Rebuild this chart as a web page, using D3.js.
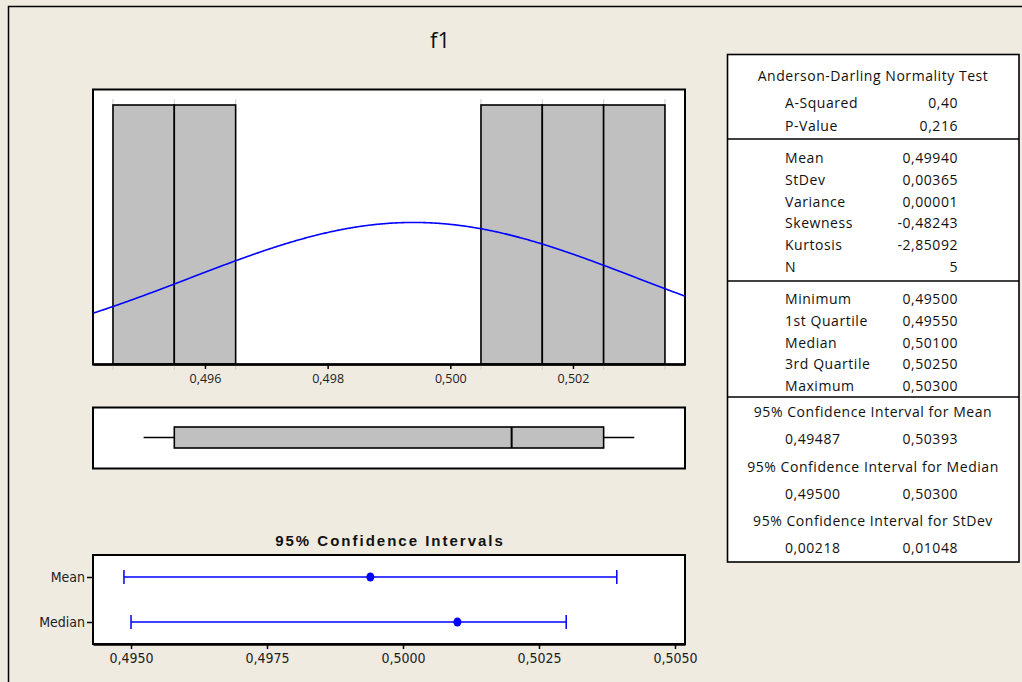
<!DOCTYPE html>
<html>
<head>
<meta charset="utf-8">
<script src="https://cdn.jsdelivr.net/npm/d3@7"></script>
<style>
  html, body { margin: 0; padding: 0; background: #efebe1; }
  svg { display: block; }
  .tbl { font-family: "Open Sans", "DejaVu Sans", sans-serif; font-size: 14px; letter-spacing: 0.55px; fill: #111; }
  .tick-lbl { font-family: "Liberation Sans Narrow", "DejaVu Sans Condensed", "Open Sans", sans-serif; font-size: 14px; fill: #222; }
  .hist-lbl { font-family: "Open Sans", "DejaVu Sans", sans-serif; font-size: 12.5px; fill: #222; }
</style>
</head>
<body>
<svg id="chart" width="1022" height="682"></svg>
<script>
// Sample and summary values
const title = "f1";
const sample = [0.495, 0.496, 0.501, 0.502, 0.503];
const binEdges = [0.4945, 0.4955, 0.4965, 0.4975, 0.4985, 0.4995, 0.5005, 0.5015, 0.5025, 0.5035];
const binCounts = [1, 1, 0, 0, 0, 0, 1, 1, 1];
const histTicks = [0.496, 0.498, 0.500, 0.502];
const histTickLabels = ["0,496", "0,498", "0,500", "0,502"];
const boxStats = { min: 0.495, q1: 0.4955, median: 0.501, q3: 0.5025, max: 0.503 };
const mean = 0.4994, stdev = 0.00365;
const ciRows = ["Mean", "Median"];
const ciCenters = [0.4994, 0.501];
const ciLows = [0.49487, 0.495];
const ciHighs = [0.50393, 0.503];
const ciTicks = [0.495, 0.4975, 0.5, 0.5025, 0.505];
const ciTickLabels = ["0,4950", "0,4975", "0,5000", "0,5025", "0,5050"];

const adLabels = ["A-Squared", "P-Value"];
const adValues = ["0,40", "0,216"];
const momentLabels = ["Mean", "StDev", "Variance", "Skewness", "Kurtosis", "N"];
const momentValues = ["0,49940", "0,00365", "0,00001", "-0,48243", "-2,85092", "5"];
const quantLabels = ["Minimum", "1st Quartile", "Median", "3rd Quartile", "Maximum"];
const quantValues = ["0,49500", "0,49550", "0,50100", "0,50250", "0,50300"];
const ciTitles = ["95% Confidence Interval for Mean", "95% Confidence Interval for Median", "95% Confidence Interval for StDev"];
const ciLowText = ["0,49487", "0,49500", "0,00218"];
const ciHighText = ["0,50393", "0,50300", "0,01048"];

const svg = d3.select("#chart");
const BLUE = "#0000ff";

// Outer frame
svg.append("rect").attr("x", 0).attr("y", 0).attr("width", 1022).attr("height", 682).attr("fill", "#efebe1");
svg.append("path").attr("d", "M8.5,682 V6.5 H1022").attr("fill", "none").attr("stroke", "#000").attr("stroke-width", 1.5);

svg.append("text").attr("x", 440).attr("y", 48).attr("text-anchor", "middle")
  .attr("font-family", "Open Sans, DejaVu Sans, sans-serif").attr("font-size", 22).attr("fill", "#111").text(title);

// ---------- Histogram ----------
const hx = d3.scaleLinear().domain([0.5 - 357.3 / 61333, 0.5 + 234.7 / 61333]).range([93, 685]);
const hy = d3.scaleLinear().domain([0, 1]).range([364, 105]);

svg.append("rect").attr("x", 93).attr("y", 89.5).attr("width", 592).attr("height", 275)
  .attr("fill", "#fff").attr("stroke", "#000").attr("stroke-width", 2);

const bins = binCounts.map((c, i) => ({ x0: binEdges[i], x1: binEdges[i + 1], c }));
// faint bin-edge marks
const usedEdges = [];
bins.forEach(b => { if (b.c > 0) { usedEdges.push(b.x0, b.x1); } });
Array.from(new Set(usedEdges)).forEach(e => {
  svg.append("line").attr("x1", hx(e)).attr("x2", hx(e)).attr("y1", hy(1) - 6).attr("y2", hy(1))
    .attr("stroke", "#cfcfcf").attr("stroke-width", 1);
  svg.append("line").attr("x1", hx(e)).attr("x2", hx(e)).attr("y1", hy(0)).attr("y2", hy(0) + 6)
    .attr("stroke", "#cfcfcf").attr("stroke-width", 1);
});

svg.append("g").selectAll("rect").data(bins.filter(b => b.c > 0)).join("rect")
  .attr("x", d => hx(d.x0)).attr("width", d => hx(d.x1) - hx(d.x0))
  .attr("y", d => hy(d.c)).attr("height", d => hy(0) - hy(d.c))
  .attr("fill", "#c0c0c0").attr("stroke", "#000").attr("stroke-width", 1.6);

// fitted normal curve, scaled to counts
const binW = binEdges[1] - binEdges[0];
const n = sample.length;
const curvePts = d3.range(0, 601).map(i => {
  const x = hx.domain()[0] + (hx.domain()[1] - hx.domain()[0]) * i / 600;
  const z = (x - mean) / stdev;
  return [x, n * binW * Math.exp(-0.5 * z * z) / (stdev * Math.sqrt(2 * Math.PI))];
});
svg.append("path").datum(curvePts)
  .attr("d", d3.line().x(d => hx(d[0])).y(d => hy(d[1])))
  .attr("fill", "none").attr("stroke", BLUE).attr("stroke-width", 1.6);

const hAxis = svg.append("g").attr("transform", "translate(0,364)")
  .call(d3.axisBottom(hx).tickValues(histTicks).tickFormat((d, i) => histTickLabels[i]).tickSize(5).tickPadding(5).tickSizeOuter(0));
hAxis.select(".domain").attr("stroke", "#000").attr("stroke-width", 2.5);
hAxis.selectAll(".tick line").attr("stroke", "#000").attr("stroke-width", 1.5);
hAxis.selectAll("text").attr("class", "hist-lbl").attr("font-size", null).attr("font-family", null).attr("fill", null);

// ---------- Boxplot ----------
svg.append("rect").attr("x", 93).attr("y", 407.5).attr("width", 592).attr("height", 61)
  .attr("fill", "#fff").attr("stroke", "#000").attr("stroke-width", 2);
const bY0 = 427, bY1 = 448, bYm = 437.5;
svg.append("line").attr("x1", hx(boxStats.min)).attr("x2", hx(boxStats.q1)).attr("y1", bYm).attr("y2", bYm)
  .attr("stroke", "#000").attr("stroke-width", 1.5);
svg.append("line").attr("x1", hx(boxStats.q3)).attr("x2", hx(boxStats.max)).attr("y1", bYm).attr("y2", bYm)
  .attr("stroke", "#000").attr("stroke-width", 1.5);
svg.append("rect").attr("x", hx(boxStats.q1)).attr("y", bY0).attr("width", hx(boxStats.q3) - hx(boxStats.q1))
  .attr("height", bY1 - bY0).attr("fill", "#c0c0c0").attr("stroke", "#000").attr("stroke-width", 1.6);
svg.append("line").attr("x1", hx(boxStats.median)).attr("x2", hx(boxStats.median)).attr("y1", bY0).attr("y2", bY1)
  .attr("stroke", "#000").attr("stroke-width", 2);

// ---------- Confidence intervals ----------
const cx = d3.scaleLinear().domain([0.495 - 38 / 54375, 0.505 + 10 / 54375]).range([93, 685]);
const cy = d3.scalePoint().domain(ciRows).range([577, 622]);

svg.append("text").attr("x", 390).attr("y", 546).attr("text-anchor", "middle")
  .attr("font-family", "Liberation Sans, Arial, sans-serif").attr("font-weight", "bold")
  .attr("font-size", 15).attr("letter-spacing", 2).attr("fill", "#111").text("95% Confidence Intervals");

svg.append("rect").attr("x", 93).attr("y", 555).attr("width", 592).attr("height", 89)
  .attr("fill", "#fff").attr("stroke", "#000").attr("stroke-width", 2);

const ciData = ciRows.map((r, i) => ({ r, c: ciCenters[i], lo: ciLows[i], hi: ciHighs[i] }));
const g = svg.append("g");
ciData.forEach(d => {
  const y = cy(d.r);
  g.append("line").attr("x1", cx(d.lo)).attr("x2", cx(d.hi)).attr("y1", y).attr("y2", y)
    .attr("stroke", BLUE).attr("stroke-width", 1.5);
  [d.lo, d.hi].forEach(v => g.append("line").attr("x1", cx(v)).attr("x2", cx(v)).attr("y1", y - 7).attr("y2", y + 7)
    .attr("stroke", BLUE).attr("stroke-width", 1.5));
  g.append("ellipse").attr("cx", cx(d.c)).attr("cy", y).attr("rx", 4).attr("ry", 4.5).attr("fill", BLUE);
});

const cAxis = svg.append("g").attr("transform", "translate(0,644)")
  .call(d3.axisBottom(cx).tickValues(ciTicks).tickFormat((d, i) => ciTickLabels[i]).tickSize(5).tickPadding(4).tickSizeOuter(0));
cAxis.select(".domain").attr("stroke", "#000").attr("stroke-width", 2.5);
cAxis.selectAll(".tick line").attr("stroke", "#000").attr("stroke-width", 1.5);
cAxis.selectAll("text").attr("class", "tick-lbl").attr("font-size", null).attr("font-family", null).attr("fill", null);

const lAxis = svg.append("g").attr("transform", "translate(93,0)")
  .call(d3.axisLeft(cy).tickSize(6).tickPadding(2).tickSizeOuter(0));
lAxis.select(".domain").remove();
lAxis.selectAll(".tick line").attr("stroke", "#000").attr("stroke-width", 1.5);
lAxis.selectAll("text").attr("class", "tick-lbl").attr("font-size", null).attr("font-family", null).attr("fill", null);

// ---------- Statistics table ----------
const T = svg.append("g").attr("class", "tbl");
T.append("rect").attr("x", 727.5).attr("y", 54.5).attr("width", 291.5).attr("height", 507.5)
  .attr("fill", "#fff").attr("stroke", "#000").attr("stroke-width", 1.6);
[139, 281, 397].forEach(y => T.append("line").attr("x1", 727.5).attr("x2", 1019).attr("y1", y).attr("y2", y)
  .attr("stroke", "#000").attr("stroke-width", 1.6));

const LX = 785, RX = 958, MX = 873;
T.append("text").attr("x", MX).attr("y", 81).attr("text-anchor", "middle").text("Anderson-Darling Normality Test");
function rows(labels, values, y0, dy) {
  labels.forEach((l, i) => {
    T.append("text").attr("x", LX).attr("y", y0 + i * dy).text(l);
    T.append("text").attr("x", RX).attr("y", y0 + i * dy).attr("text-anchor", "end").text(values[i]);
  });
}
rows(adLabels, adValues, 108, 23);
rows(momentLabels, momentValues, 163, 21.8);
rows(quantLabels, quantValues, 304, 21.75);
const ciY = [417, 472, 526];
ciTitles.forEach((t, i) => {
  T.append("text").attr("x", MX).attr("y", ciY[i]).attr("text-anchor", "middle").text(t);
  T.append("text").attr("x", LX).attr("y", ciY[i] + 26.5).text(ciLowText[i]);
  T.append("text").attr("x", RX).attr("y", ciY[i] + 26.5).attr("text-anchor", "end").text(ciHighText[i]);
});
</script>
</body>
</html>
